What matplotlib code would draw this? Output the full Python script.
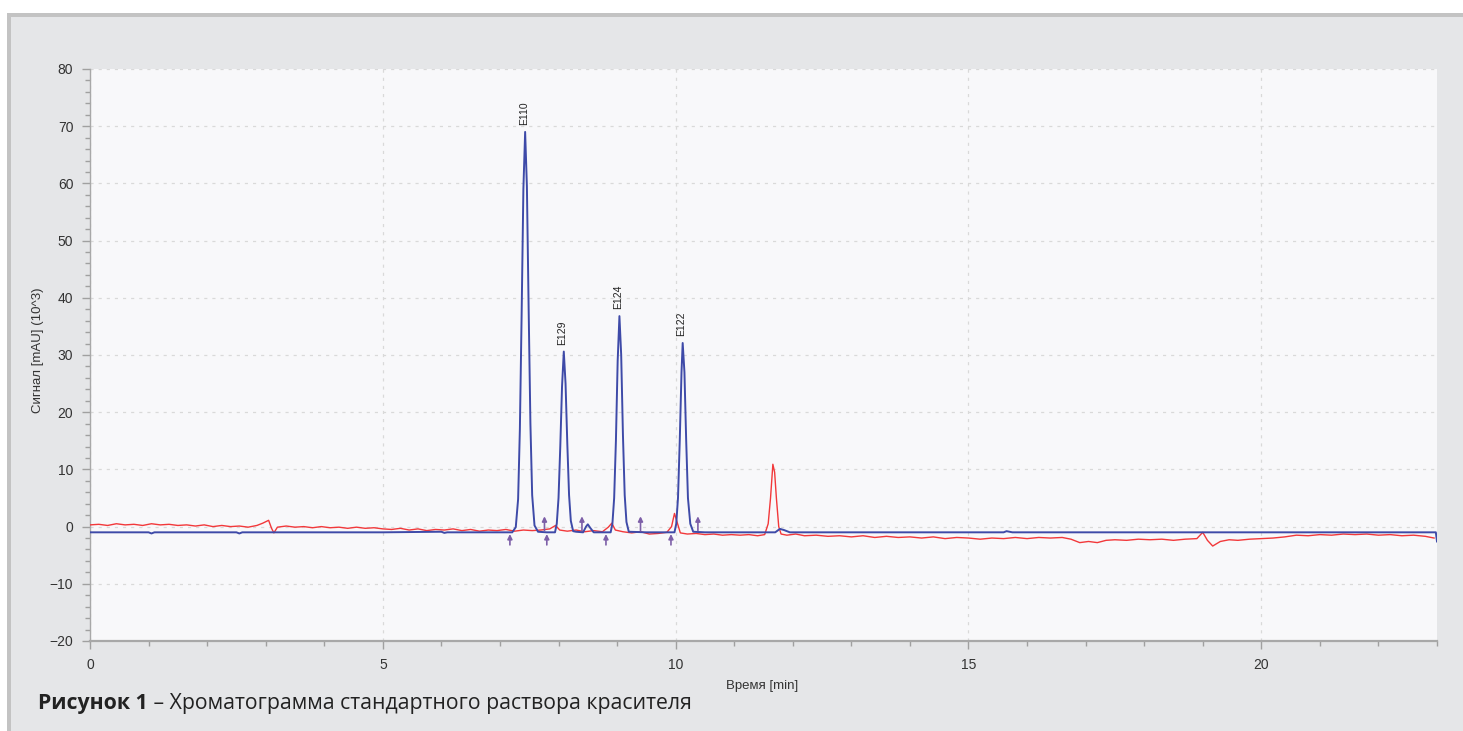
import matplotlib
matplotlib.use("Agg")
import matplotlib.pyplot as plt
from matplotlib.patches import Rectangle
from matplotlib.ticker import MultipleLocator

# ---------------- data ----------------
blue_t = [0.00, 1.00, 1.05, 1.10, 2.50, 2.55, 2.60, 5.00, 6.00, 6.05, 6.10, 7.21,
          7.27, 7.31, 7.34, 7.37, 7.40, 7.43, 7.46, 7.49, 7.52, 7.55, 7.59, 7.65,
          7.80, 7.94, 7.97, 8.00, 8.03, 8.06, 8.09, 8.12, 8.15, 8.18, 8.21, 8.25,
          8.30, 8.42, 8.47, 8.50, 8.54, 8.60, 8.89, 8.92, 8.95, 8.98, 9.01, 9.04,
          9.07, 9.10, 9.13, 9.16, 9.20, 9.50, 9.98, 10.01, 10.04, 10.07, 10.10,
          10.12, 10.15, 10.18, 10.21, 10.25, 10.30, 10.50, 11.70, 11.78, 11.85,
          11.95, 13.00, 15.60, 15.65, 15.75, 19.00, 22.98, 23.00]
blue_v = [-1.0, -1.0, -1.2, -1.0, -1.0, -1.2, -1.0, -1.0, -0.9, -1.1, -1.0, -1.0,
          -0.1, 4.8, 17.0, 37.0, 59.0, 69.0, 59.5, 38.0, 18.0, 5.5, 0.2, -0.9,
          -1.0, -1.0, 0.5, 5.0, 14.0, 24.5, 30.6, 25.0, 14.5, 5.5, 1.0, -0.8,
          -0.9, -1.0, 0.0, 0.4, -0.2, -1.0, -1.0, 0.5, 5.0, 15.0, 29.0, 36.8,
          30.0, 16.0, 5.5, 0.8, -0.9, -1.0, -1.0, 0.5, 5.0, 15.0, 27.0,
          32.1, 27.0, 15.0, 5.0, 0.5, -0.9, -1.0, -1.0, -0.4, -0.6,
          -1.0, -1.0, -1.0, -0.8, -1.0, -1.0, -1.0, -2.6]

red_t = [0.00, 0.15, 0.30, 0.45, 0.60, 0.75, 0.90, 1.05, 1.20, 1.35, 1.50, 1.65,
         1.80, 1.95, 2.10, 2.25, 2.40, 2.55, 2.70, 2.85, 2.95, 3.05, 3.10, 3.14,
         3.20, 3.35, 3.50, 3.65, 3.80, 3.95, 4.10, 4.25, 4.40, 4.55, 4.70, 4.85,
         5.00, 5.15, 5.30, 5.45, 5.60, 5.75, 5.90, 6.05, 6.20, 6.35, 6.50, 6.65,
         6.80, 6.95, 7.10, 7.25, 7.40, 7.55, 7.70, 7.85, 7.95, 8.02, 8.15, 8.30,
         8.45, 8.60, 8.75, 8.85, 8.91, 8.97, 9.10, 9.25, 9.40, 9.55, 9.70, 9.85,
         9.93, 9.98, 10.03, 10.08, 10.20, 10.35, 10.50, 10.65, 10.80, 10.95,
         11.10, 11.25, 11.40, 11.52, 11.58, 11.62, 11.66, 11.69, 11.72, 11.76,
         11.80, 11.90, 12.05, 12.20, 12.40, 12.60, 12.80, 13.00, 13.20, 13.40,
         13.60, 13.80, 14.00, 14.20, 14.40, 14.60, 14.80, 15.00, 15.20, 15.40,
         15.60, 15.80, 16.00, 16.20, 16.40, 16.60, 16.75, 16.90, 17.05, 17.20,
         17.35, 17.50, 17.70, 17.90, 18.10, 18.30, 18.50, 18.70, 18.90, 19.00,
         19.08, 19.17, 19.30, 19.45, 19.60, 19.80, 20.00, 20.20, 20.40, 20.60,
         20.80, 21.00, 21.20, 21.40, 21.60, 21.80, 22.00, 22.20, 22.40, 22.60,
         22.80, 22.95]
red_v = [0.3, 0.4, 0.2, 0.5, 0.3, 0.4, 0.2, 0.5, 0.3, 0.4, 0.2, 0.3,
         0.1, 0.3, 0.0, 0.2, 0.0, 0.1, -0.1, 0.2, 0.6, 1.1, -0.3, -1.1,
         -0.1, 0.1, -0.1, 0.0, -0.2, 0.0, -0.2, -0.1, -0.3, -0.1, -0.3, -0.2,
         -0.4, -0.5, -0.3, -0.6, -0.4, -0.7, -0.5, -0.6, -0.4, -0.7, -0.5, -0.8,
         -0.6, -0.7, -0.5, -0.8, -0.6, -0.7, -0.6, -0.4, 0.2, -0.6, -0.8, -0.6,
         -0.9, -0.7, -0.9, -0.1, 0.6, -0.6, -0.9, -1.1, -0.9, -1.3, -1.2, -1.0,
         0.0, 2.3, 0.6, -1.1, -1.3, -1.2, -1.4, -1.3, -1.5, -1.4,
         -1.5, -1.4, -1.6, -1.4, 0.5, 5.0, 10.9, 9.5, 5.0, 0.0,
         -1.3, -1.5, -1.3, -1.6, -1.5, -1.7, -1.6, -1.8, -1.6, -1.9,
         -1.7, -1.9, -1.8, -2.0, -1.8, -2.1, -1.9, -2.0, -2.2, -2.0,
         -2.1, -1.9, -2.1, -1.9, -2.0, -1.9, -2.2, -2.8, -2.6, -2.8,
         -2.4, -2.3, -2.4, -2.2, -2.3, -2.2, -2.4, -2.2, -2.1, -1.0,
         -2.4, -3.4, -2.6, -2.3, -2.4, -2.2, -2.1, -2.0, -1.8, -1.5,
         -1.6, -1.4, -1.5, -1.3, -1.4, -1.3, -1.5, -1.4, -1.6, -1.5,
         -1.7, -2.0]

peak_names = ["E110", "E129", "E124", "E122"]
peak_times = [7.43, 8.09, 9.04, 10.12]
peak_heights = [69.0, 30.6, 36.8, 32.1]

start_marks = [7.17, 7.80, 8.81, 9.92]
end_marks = [7.76, 8.40, 9.40, 10.38]

x_ticks = [0, 5, 10, 15, 20]
y_ticks = [-20, -10, 0, 10, 20, 30, 40, 50, 60, 70, 80]

caption_bold = "Рисунок 1"
caption_rest = " – Хроматограмма стандартного раствора красителя"
xlabel = "Время [min]"
ylabel = "Сигнал [mAU] (10^3)"

# ---------------- figure ----------------
W, H = 1463, 731
fig = plt.figure(figsize=(W / 100, H / 100), dpi=100)
fig.patch.set_facecolor("white")

def px(x, y):
    return x / W, 1 - y / H

# frame
fig.patches.append(Rectangle((7 / W, 0), 1.0, 1 - 13 / H, transform=fig.transFigure,
                             facecolor="#c3c3c3", edgecolor="none", zorder=-10))
fig.patches.append(Rectangle((11 / W, 0), 1.0, 1 - 17 / H, transform=fig.transFigure,
                             facecolor="#e5e6e8", edgecolor="none", zorder=-9))

ax_l, ax_r, ax_t, ax_b = 90, 1437, 69, 641
ax = fig.add_axes([ax_l / W, 1 - ax_b / H, (ax_r - ax_l) / W, (ax_b - ax_t) / H])
ax.set_zorder(2)
ax.set_facecolor("#f8f8fa")
ax.set_xlim(0, 23)
ax.set_ylim(-20, 80)

ax.grid(True, which="major", color="#d9d9d9", linestyle=(0, (2.5, 4)), linewidth=0.9)
ax.set_axisbelow(True)

for s in ["top", "right"]:
    ax.spines[s].set_visible(False)
ax.spines["left"].set_color("#a8a8a8")
ax.spines["bottom"].set_color("#a8a8a8")
ax.spines["bottom"].set_linewidth(1.6)
ax.spines["left"].set_linewidth(1.0)

ax.set_xticks(x_ticks)
ax.set_yticks(y_ticks)
ax.xaxis.set_minor_locator(MultipleLocator(1))
ax.yaxis.set_minor_locator(MultipleLocator(2))
ax.tick_params(which="major", length=6, color="#a0a0a0", labelsize=10,
               labelcolor="#333333", width=1)
ax.tick_params(which="minor", length=3.5, color="#a0a0a0", width=1)
ax.tick_params(axis="x", pad=6)
ax.tick_params(axis="y", pad=6)
for lab in ax.get_xticklabels() + ax.get_yticklabels():
    lab.set_fontfamily("Liberation Sans")

ax.plot(red_t, red_v, color="#f2383a", linewidth=1.0, zorder=3)
ax.plot(blue_t, blue_v, color="#3e4aa8", linewidth=1.4, zorder=4)

for name, t, h in zip(peak_names, peak_times, peak_heights):
    ax.annotate(name, xy=(t, h), xytext=(-1, 5), textcoords="offset points",
                rotation=90, ha="center", va="bottom", fontsize=7.5,
                family="Liberation Sans", color="#222222")

for t in start_marks:
    ax.annotate("", xy=(t, -1.3), xytext=(t, -3.2),
                arrowprops=dict(arrowstyle="-|>", color="#7d5fa8", lw=1.2,
                                mutation_scale=7, shrinkA=0, shrinkB=0), zorder=5)
for t in end_marks:
    ax.annotate("", xy=(t, 1.8), xytext=(t, -0.7),
                arrowprops=dict(arrowstyle="-|>", color="#7d5fa8", lw=1.2,
                                mutation_scale=7, shrinkA=0, shrinkB=0), zorder=5)

fig.text(*px(762, 686), xlabel, ha="center", va="center", fontsize=9.5,
         family="Liberation Sans", color="#333333")
fig.text(*px(38, 350), ylabel, ha="center", va="center", rotation=90, fontsize=9.5,
         family="Liberation Sans", color="#333333")

t1 = fig.text(*px(38, 704), caption_bold, ha="left", va="center", fontsize=15.3,
              family="Open Sans", fontweight="bold", color="#222222")
fig.canvas.draw()
bb = t1.get_window_extent()
fig.text(bb.x1 / W, 1 - 704 / H, caption_rest, ha="left", va="center", fontsize=15.3,
         family="Open Sans", color="#222222")

fig.savefig("out.png", dpi=100)
